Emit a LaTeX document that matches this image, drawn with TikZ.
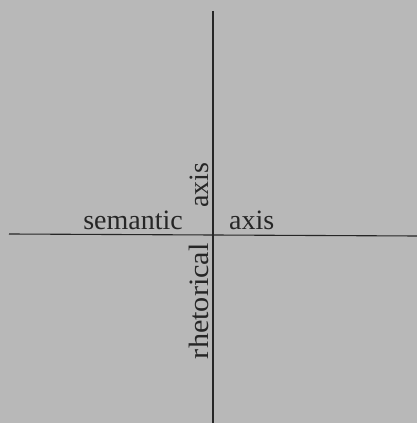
\documentclass[tikz,border=0pt]{standalone}
\usepackage{fontspec}
\setmainfont{Liberation Serif}
\usetikzlibrary{positioning}
\definecolor{paper}{gray}{0.72}
\definecolor{ink}{gray}{0.15}
\begin{document}
\begin{tikzpicture}[x=1pt,y=1pt,lbl/.style={inner sep=0pt,text=ink,font=\fontsize{28}{31}\selectfont},axisline/.style={draw=ink,line width=1.1pt}]
  \fill[paper] (0,0) rectangle (417,423);
  \useasboundingbox (0,0) rectangle (417,423);
  \coordinate (top) at (213,412);
  \coordinate (bottom) at (213,0);
  \coordinate (left) at (9,189);
  \coordinate (right) at (417,187);

  \draw[axisline] (top) -- (bottom);
  \draw[axisline] (left) -- (right);

  \node[lbl,anchor=base east] (sem) at (183,193) {semantic};
  \node[lbl,anchor=base west] (semaxis) at (229,193) {axis};
  \node[lbl,rotate=90,anchor=base west] (rhetaxis) at (208,215) {axis};
  \node[lbl,rotate=90,anchor=base east,xscale=1.08] (rhet) at (208,180) {rhetorical};
\end{tikzpicture}
\end{document}
